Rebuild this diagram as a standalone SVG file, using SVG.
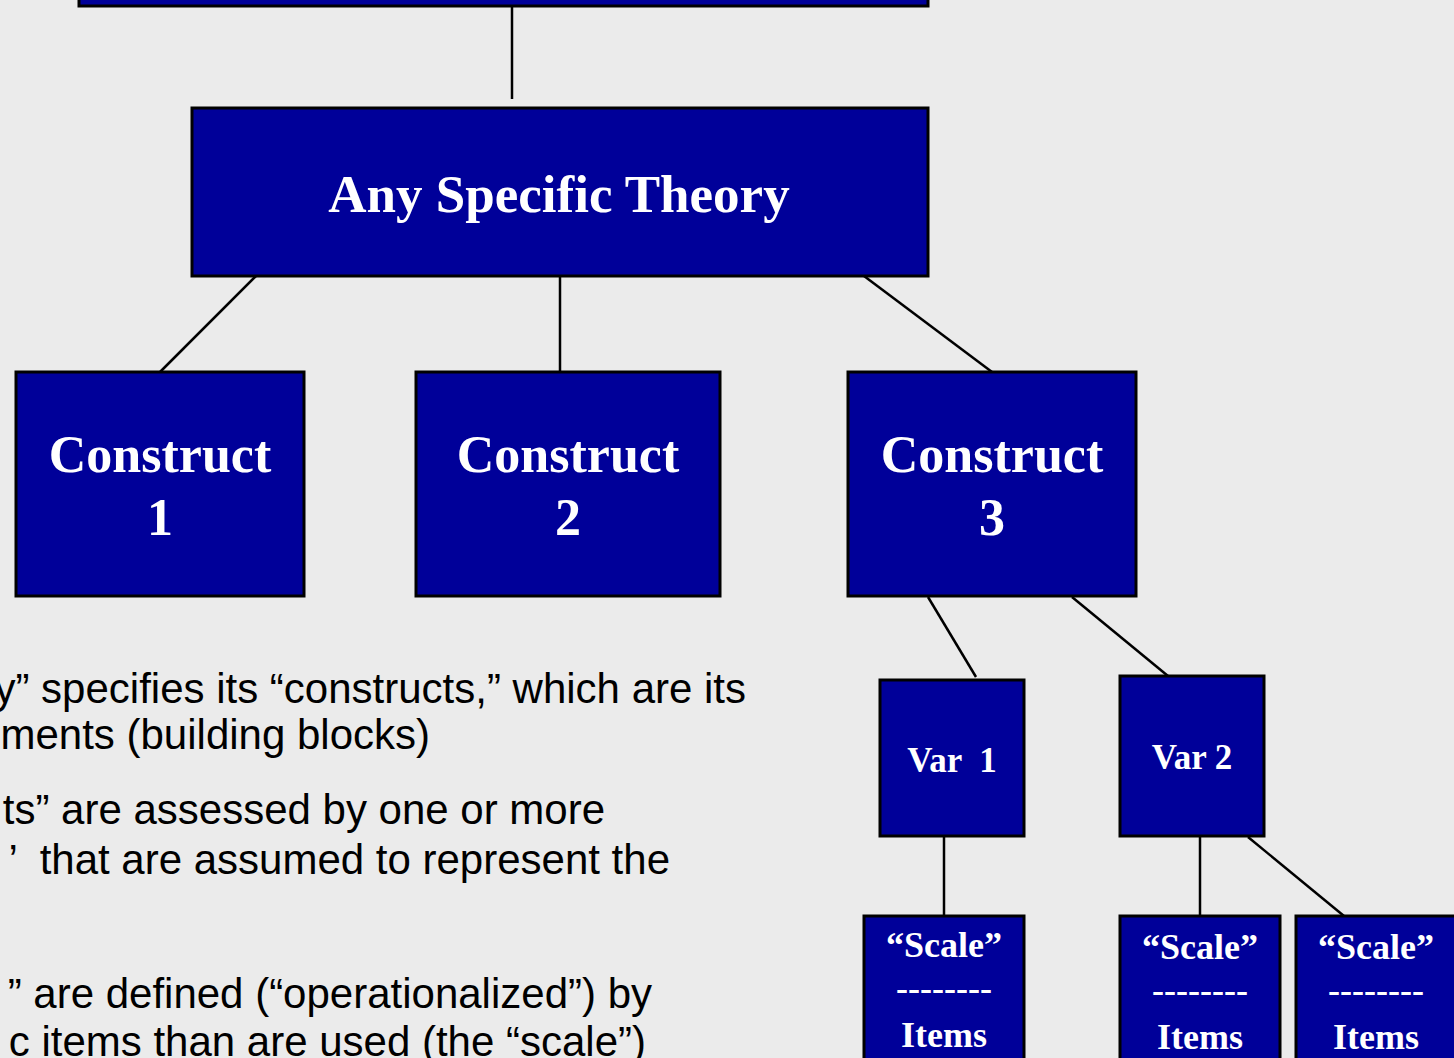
<svg xmlns="http://www.w3.org/2000/svg" width="1454" height="1058" viewBox="0 0 1454 1058">
<style>
.box{fill:#000099;stroke:#000;stroke-width:3}
.lbl{font-family:"Liberation Serif","Times New Roman",serif;font-weight:bold;fill:#fff;text-anchor:middle}
.body{font-family:"Liberation Sans",Arial,sans-serif;font-size:42px;fill:#000;text-anchor:end}
.conn line{stroke:#000;stroke-width:2.5}
</style>
<rect width="1454" height="1058" fill="#ebebeb"/>
<g class="conn">
<line x1="512" y1="6" x2="512" y2="99"/>
<line x1="256" y1="276" x2="160" y2="372"/>
<line x1="560" y1="276" x2="560" y2="372"/>
<line x1="864" y1="276" x2="992" y2="372"/>
<line x1="928" y1="597" x2="976" y2="677"/>
<line x1="1072" y1="597" x2="1168" y2="676"/>
<line x1="944" y1="837" x2="944" y2="916"/>
<line x1="1200" y1="837" x2="1200" y2="916"/>
<line x1="1248" y1="837" x2="1344" y2="916"/>
</g>
<g id="top"><rect class="box" x="79" y="-40" width="849" height="46"/></g>
<g id="theory"><rect class="box" x="192" y="108" width="736" height="168"/><text class="lbl" x="559" y="212" font-size="53">Any Specific Theory</text></g>
<g id="construct1"><rect class="box" x="16" y="372" width="288" height="224"/><text class="lbl" x="160" y="472" font-size="52">Construct</text><text class="lbl" x="160" y="535" font-size="52">1</text></g>
<g id="construct2"><rect class="box" x="416" y="372" width="304" height="224"/><text class="lbl" x="568" y="472" font-size="52">Construct</text><text class="lbl" x="568" y="535" font-size="52">2</text></g>
<g id="construct3"><rect class="box" x="848" y="372" width="288" height="224"/><text class="lbl" x="992" y="472" font-size="52">Construct</text><text class="lbl" x="992" y="535" font-size="52">3</text></g>
<g id="var1"><rect class="box" x="880" y="680" width="144" height="156"/><text class="lbl" x="952" y="772" font-size="35" xml:space="preserve">Var  1</text></g>
<g id="var2"><rect class="box" x="1120" y="676" width="144" height="160"/><text class="lbl" x="1192" y="769" font-size="35">Var 2</text></g>
<g id="scale1"><rect class="box" x="864" y="916" width="160" height="160"/><text class="lbl" x="944" y="957" font-size="36">“Scale”</text><text class="lbl" x="944" y="1000" font-size="36">--------</text><text class="lbl" x="944" y="1047" font-size="36">Items</text></g>
<g id="scale2"><rect class="box" x="1120" y="916" width="160" height="160"/><text class="lbl" x="1200" y="959" font-size="36">“Scale”</text><text class="lbl" x="1200" y="1002" font-size="36">--------</text><text class="lbl" x="1200" y="1049" font-size="36">Items</text></g>
<g id="scale3"><rect class="box" x="1296" y="916" width="180" height="160"/><text class="lbl" x="1376" y="959" font-size="36">“Scale”</text><text class="lbl" x="1376" y="1002" font-size="36">--------</text><text class="lbl" x="1376" y="1049" font-size="36">Items</text></g>
<g id="bullets">
<text class="body" x="746" y="703">y” specifies its “constructs,” which are its</text>
<text class="body" x="430" y="749">ments (building blocks)</text>
<text class="body" x="605" y="824">ts” are assessed by one or more</text>
<text class="body" x="670" y="874" xml:space="preserve">’  that are assumed to represent the</text>
<text class="body" x="652" y="1008">” are defined (“operationalized”) by</text>
<text class="body" x="646" y="1056">c items than are used (the “scale”)</text>
</g>
</svg>
